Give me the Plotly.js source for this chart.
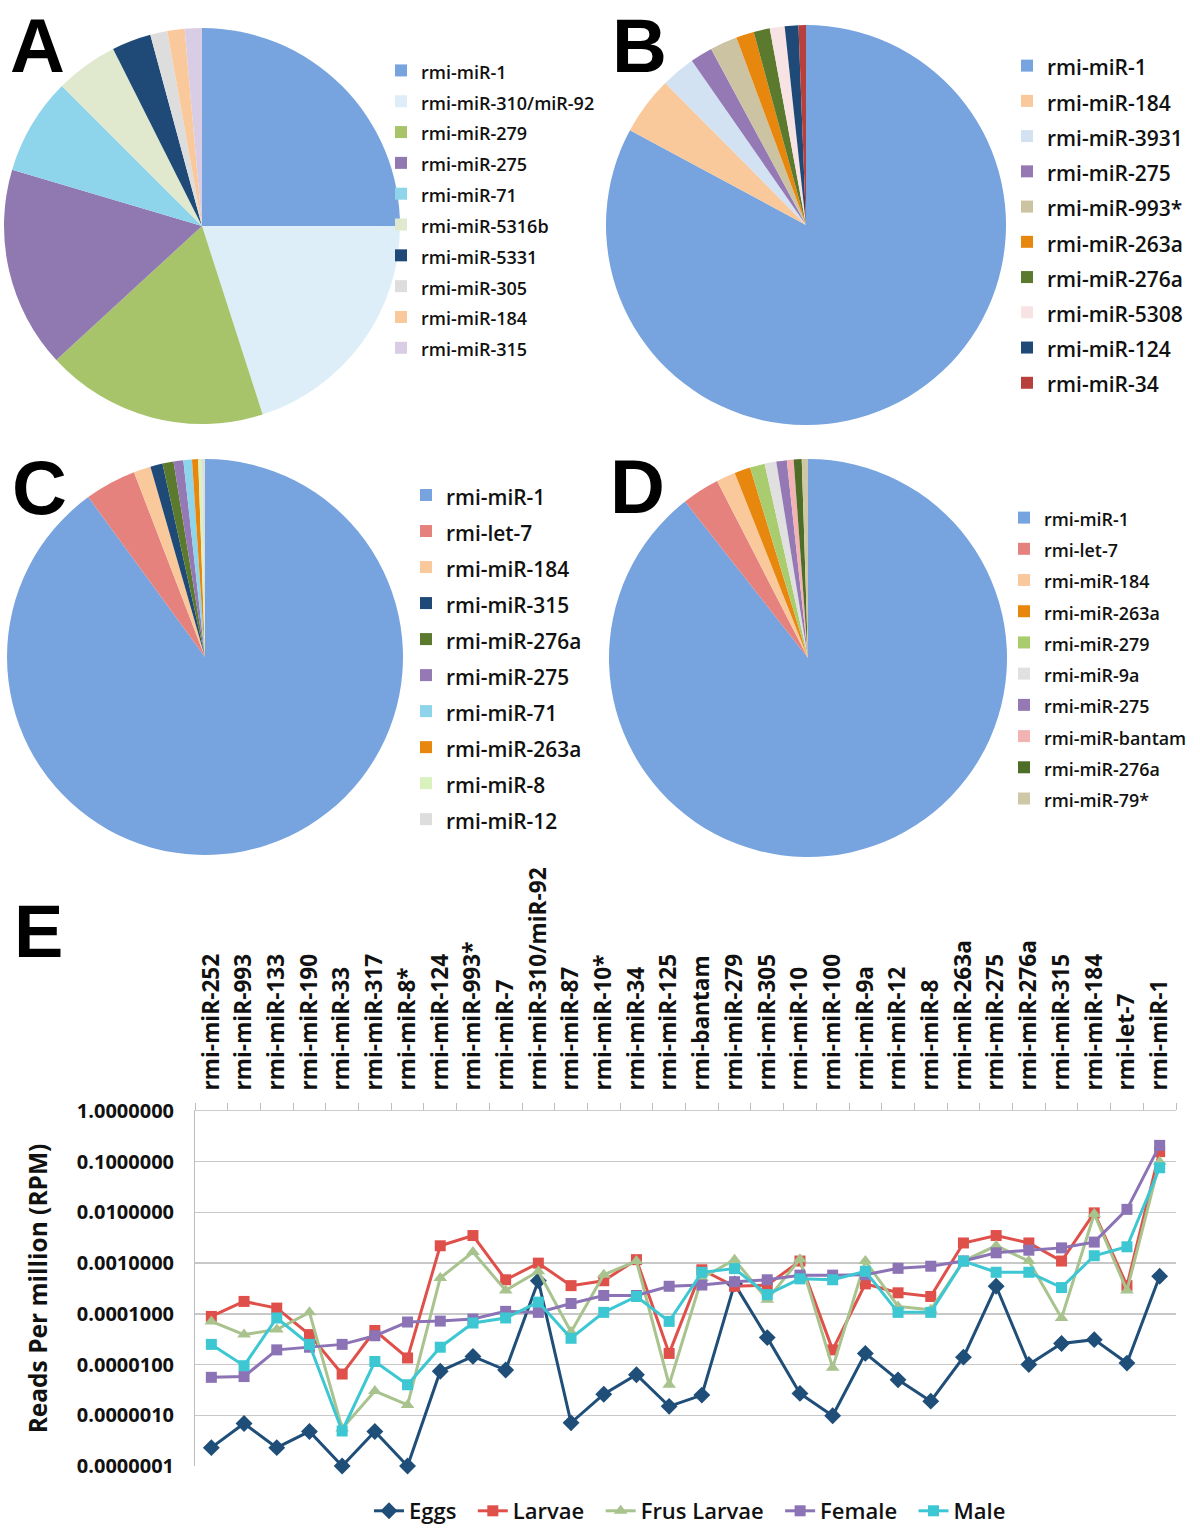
<!DOCTYPE html>
<html>
<head>
<meta charset="utf-8">
<script src="https://cdn.plot.ly/plotly-3.0.1.min.js"></script>
<style>
  html, body { margin: 0; padding: 0; background: #fff; }
  #plot { width: 1200px; height: 1536px; }
</style>
</head>
<body>
<div id="plot"></div>
<script>
// panel A
const labelsA = ['rmi-miR-1', 'rmi-miR-310/miR-92', 'rmi-miR-279', 'rmi-miR-275', 'rmi-miR-71',
  'rmi-miR-5316b', 'rmi-miR-5331', 'rmi-miR-305', 'rmi-miR-184', 'rmi-miR-315'];
const valuesA = [25, 20, 18.1, 16.4, 7.9, 5.1, 3.2, 1.4, 1.4, 1.4];
const colorsA = ['#77a3de', '#ddeef8', '#a7c46b', '#9079b1', '#8ed4ea', '#e0e8cd', '#1f4a78', '#dddddd', '#f9c89b', '#d8cde4'];

// panel B
const labelsB = ['rmi-miR-1', 'rmi-miR-184', 'rmi-miR-3931', 'rmi-miR-275', 'rmi-miR-993*',
  'rmi-miR-263a', 'rmi-miR-276a', 'rmi-miR-5308', 'rmi-miR-124', 'rmi-miR-34'];
const valuesB = [82.7, 4.7, 2.75, 1.8, 2.2, 1.45, 1.3, 1.2, 1.1, 0.6];
const colorsB = ['#77a3de', '#f9c89b', '#d2e2f2', '#9479b5', '#cbc3a2', '#e8870e', '#5b7a2e', '#f7e3e3', '#1f4a78', '#b8403c'];

// panel C
const labelsC = ['rmi-miR-1', 'rmi-let-7', 'rmi-miR-184', 'rmi-miR-315', 'rmi-miR-276a',
  'rmi-miR-275', 'rmi-miR-71', 'rmi-miR-263a', 'rmi-miR-8', 'rmi-miR-12'];
const valuesC = [90.1, 4.2, 1.4, 1.0, 0.9, 0.8, 0.7, 0.5, 0.3, 0.25];
const colorsC = ['#77a3de', '#e5827e', '#f9c89b', '#1f4a78', '#5b7a2e', '#9479b5', '#8ed4ea', '#e8870e', '#d8f1bd', '#dddddd'];

// panel D
const labelsD = ['rmi-miR-1', 'rmi-let-7', 'rmi-miR-184', 'rmi-miR-263a', 'rmi-miR-279',
  'rmi-miR-9a', 'rmi-miR-275', 'rmi-miR-bantam', 'rmi-miR-276a', 'rmi-miR-79*'];
const valuesD = [89.4, 3.05, 1.55, 1.3, 1.2, 0.95, 0.85, 0.55, 0.65, 0.5];
const colorsD = ['#77a3de', '#e5827e', '#f9c89b', '#e8870e', '#a8cc6e', '#e0e0e0', '#9479b5', '#f4b3b3', '#4e6e28', '#cfc8a6'];

// panel E
const mirnas = ['rmi-miR-252', 'rmi-miR-993', 'rmi-miR-133', 'rmi-miR-190', 'rmi-miR-33',
  'rmi-miR-317', 'rmi-miR-8*', 'rmi-miR-124', 'rmi-miR-993*', 'rmi-miR-7',
  'rmi-miR-310/miR-92', 'rmi-miR-87', 'rmi-miR-10*', 'rmi-miR-34', 'rmi-miR-125',
  'rmi-bantam', 'rmi-miR-279', 'rmi-miR-305', 'rmi-miR-10', 'rmi-miR-100',
  'rmi-miR-9a', 'rmi-miR-12', 'rmi-miR-8', 'rmi-miR-263a', 'rmi-miR-275',
  'rmi-miR-276a', 'rmi-miR-315', 'rmi-miR-184', 'rmi-let-7', 'rmi-miR-1'];
const eggs = [2.3e-7, 6.9e-7, 2.3e-7, 4.8e-7, 1.0e-7, 4.8e-7, 1.0e-7, 7.4e-6, 1.45e-5, 7.8e-6,
  4.5e-4, 7.1e-7, 2.6e-6, 6.3e-6, 1.5e-6, 2.5e-6, 3.9e-4, 3.4e-5, 2.7e-6, 9.8e-7,
  1.66e-5, 5.0e-6, 1.9e-6, 1.4e-5, 3.5e-4, 1.0e-5, 2.6e-5, 3.1e-5, 1.07e-5, 5.5e-4];
const larvae = [8.9e-5, 1.76e-4, 1.3e-4, 3.9e-5, 6.5e-6, 4.7e-5, 1.35e-5, 2.2e-3, 3.5e-3, 4.7e-4,
  1.0e-3, 3.6e-4, 4.5e-4, 1.17e-3, 1.66e-5, 7.4e-4, 3.5e-4, 3.7e-4, 1.1e-3, 1.95e-5,
  3.9e-4, 2.6e-4, 2.2e-4, 2.5e-3, 3.5e-3, 2.5e-3, 1.1e-3, 9.8e-3, 3.6e-4, 0.158];
const frusLarvae = [7.1e-5, 3.9e-5, 4.9e-5, 1.07e-4, 5.5e-7, 3.0e-6, 1.6e-6, 5.1e-4, 1.66e-3, 2.9e-4,
  6.9e-4, 4.4e-5, 5.9e-4, 1.1e-3, 4.0e-6, 5.1e-4, 1.17e-3, 1.9e-4, 1.2e-3, 8.7e-6,
  1.1e-3, 1.4e-4, 1.2e-4, 1.1e-3, 2.2e-3, 1.1e-3, 8.3e-5, 9.3e-3, 2.9e-4, 0.10];
const female = [5.6e-6, 5.8e-6, 1.95e-5, 2.2e-5, 2.5e-5, 3.7e-5, 6.9e-5, 7.2e-5, 7.9e-5, 1.12e-4,
  1.07e-4, 1.6e-4, 2.3e-4, 2.3e-4, 3.5e-4, 3.7e-4, 4.3e-4, 4.7e-4, 5.8e-4, 5.8e-4,
  5.9e-4, 7.9e-4, 8.7e-4, 1.1e-3, 1.6e-3, 1.8e-3, 2.0e-3, 2.6e-3, 1.15e-2, 0.21];
const male = [2.5e-5, 9.5e-6, 8.3e-5, 2.5e-5, 4.9e-7, 1.15e-5, 4.0e-6, 2.2e-5, 6.6e-5, 8.3e-5,
  1.7e-4, 3.3e-5, 1.07e-4, 2.2e-4, 7.1e-5, 6.6e-4, 7.8e-4, 2.4e-4, 4.9e-4, 4.7e-4,
  6.9e-4, 1.07e-4, 1.07e-4, 1.1e-3, 6.6e-4, 6.6e-4, 3.3e-4, 1.4e-3, 2.1e-3, 7.6e-2];
const yTickVals = [1e-7, 1e-6, 1e-5, 1e-4, 1e-3, 1e-2, 1e-1, 1];
const yTickText = ['0.0000001', '0.0000010', '0.0000100', '0.0001000', '0.0010000', '0.0100000', '0.1000000', '1.0000000'];

const W = 1200, H = 1536;
const px = v => v / W;
const py = v => 1 - v / H;
const FONT = 'Open Sans, Lato, sans-serif';

// legend text smaller than the legend font so the rows get the original spacing
// (the size also keeps equal labels of different pies apart in the legends)
function small(labels, size) {
  return labels.map(l => `<span style="font-size:${size}px">${l}</span>`);
}

function pie(labels, values, colors, box, legend, textSize) {
  return {
    type: 'pie',
    labels: small(labels, textSize),
    values: values,
    marker: { colors: colors, line: { width: 0 } },
    sort: false,
    direction: 'clockwise',
    textinfo: 'none',
    hoverinfo: 'label+percent',
    domain: { x: [px(box[0]), px(box[1])], y: [py(box[3]), py(box[2])] },
    legend: legend
  };
}

const traces = [
  pie(labelsA, valuesA, colorsA, [3, 401, 28, 424], 'legend', 18),
  pie(labelsB, valuesB, colorsB, [606, 1006, 25, 425], 'legend2', 21),
  pie(labelsC, valuesC, colorsC, [7, 403, 459, 855], 'legend3', 20.9),
  pie(labelsD, valuesD, colorsD, [608, 1008, 459, 857], 'legend4', 17.9)
];

const series = [
  { name: 'Eggs', y: eggs, color: '#1f4e79', symbol: 'diamond', size: 13 },
  { name: 'Larvae', y: larvae, color: '#e0504b', symbol: 'square', size: 11 },
  { name: 'Frus Larvae', y: frusLarvae, color: '#a8c38e', symbol: 'triangle-up', size: 12 },
  { name: 'Female', y: female, color: '#8b73b5', symbol: 'square', size: 11 },
  { name: 'Male', y: male, color: '#3cc7d3', symbol: 'square', size: 11 }
];
series.forEach((s, i) => {
  traces.push({
    type: 'scatter',
    mode: 'lines+markers',
    x: mirnas,
    y: s.y,
    // trailing spaces widen the gap between legend entries
    name: i < series.length - 1 ? s.name + '\u00a0\u00a0' : s.name,
    line: { color: s.color, width: 3 },
    marker: { color: s.color, symbol: s.symbol, size: s.size },
    cliponaxis: false,
    xaxis: 'x',
    yaxis: 'y',
    legend: 'legend5'
  });
});

function legendAt(left, top, size) {
  return {
    x: px(left), y: py(top), xanchor: 'left', yanchor: 'top',
    bgcolor: 'rgba(0,0,0,0)',
    font: { family: FONT, size: size, color: '#111', weight: 600 }
  };
}

const letters = [['A', 8, 45], ['B', 610, 45], ['C', 10, 487], ['D', 608, 486], ['E', 12, 931]];

const layout = {
  width: W,
  height: H,
  margin: { l: 0, r: 0, t: 0, b: 0 },
  paper_bgcolor: '#fff',
  plot_bgcolor: '#fff',
  font: { family: FONT, color: '#111' },
  showlegend: true,
  legend: legendAt(381, 50, 21.4),
  legend2: legendAt(1007, 43, 24.8),
  legend3: legendAt(406, 472, 25.4),
  legend4: legendAt(1004, 497, 21.7),
  legend5: {
    orientation: 'h', x: px(690), y: py(1511), xanchor: 'center', yanchor: 'middle',
    bgcolor: 'rgba(0,0,0,0)',
    font: { family: FONT, size: 22, color: '#111', weight: 600 }
  },
  xaxis: {
    domain: [px(195), px(1176)],
    anchor: 'y',
    type: 'category',
    side: 'top',
    range: [-0.5, 29.5],
    tickangle: -90,
    ticks: 'outside',
    tickson: 'boundaries',
    ticklen: 7,
    tickcolor: '#bdbdbd',
    ticklabelstandoff: 15,
    showline: true,
    linecolor: '#cccccc',
    showgrid: false,
    automargin: false,
    tickfont: { family: FONT, size: 22.6, color: '#111', weight: 700 }
  },
  yaxis: {
    domain: [py(1466), py(1111)],
    anchor: 'x',
    type: 'log',
    range: [-7, 0],
    tickvals: yTickVals,
    ticktext: yTickText,
    ticks: '',
    ticklabelstandoff: 16,
    showline: true,
    linecolor: '#bdbdbd',
    gridcolor: '#c8c8c8',
    gridwidth: 1.5,
    zeroline: false,
    automargin: false,
    tickfont: { family: FONT, size: 20, color: '#111', weight: 700 },
    title: { text: 'Reads Per million (RPM)', standoff: 22, font: { family: FONT, size: 24.5, color: '#111', weight: 700 } }
  },
  annotations: letters.map(l => ({
    text: l[0], xref: 'paper', yref: 'paper', x: px(l[1]), y: py(l[2]),
    xanchor: 'left', yanchor: 'middle', showarrow: false,
    font: { family: 'Liberation Sans, Arial, sans-serif', size: l[0] === 'E' ? 74 : 76, color: '#000', weight: 700 }
  }))
};

Plotly.newPlot('plot', traces, layout, { displayModeBar: false, staticPlot: true });
</script>
</body>
</html>
